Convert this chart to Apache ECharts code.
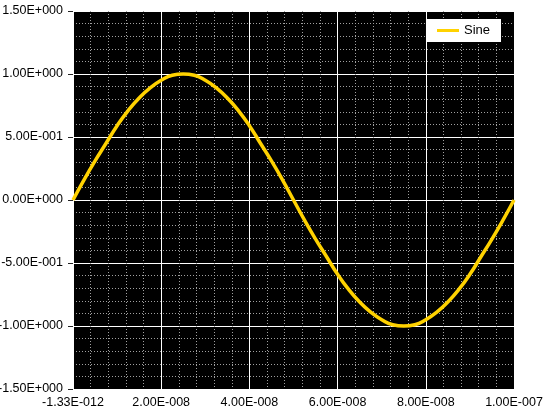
<!DOCTYPE html>
<html>
<head>
<meta charset="utf-8">
<script src="https://cdn.jsdelivr.net/npm/echarts@6/dist/echarts.min.js"></script>
<style>
html, body { margin: 0; padding: 0; background: #fff; }
#chart { width: 548px; height: 413px; }
</style>
</head>
<body>
<div id="chart"></div>
<script>
// values
var seriesName = 'Sine';
var xValues = [
    -1.33e-12, 2.5e-9, 5.0e-9, 7.5e-9, 1.0e-8, 1.25e-8, 1.5e-8, 1.75e-8, 2.0e-8, 2.25e-8,
    2.5e-8, 2.75e-8, 3.0e-8, 3.25e-8, 3.5e-8, 3.75e-8, 4.0e-8, 4.25e-8, 4.5e-8, 4.75e-8,
    5.0e-8, 5.25e-8, 5.5e-8, 5.75e-8, 6.0e-8, 6.25e-8, 6.5e-8, 6.75e-8, 7.0e-8, 7.25e-8,
    7.5e-8, 7.75e-8, 8.0e-8, 8.25e-8, 8.5e-8, 8.75e-8, 9.0e-8, 9.25e-8, 9.5e-8, 9.75e-8,
    1.0e-7
];
var yValues = [
    0.00, 0.16, 0.31, 0.45, 0.59, 0.71, 0.81, 0.89, 0.95, 0.99,
    1.00, 0.99, 0.95, 0.89, 0.81, 0.71, 0.59, 0.45, 0.31, 0.16,
    0.00, -0.16, -0.31, -0.45, -0.59, -0.71, -0.81, -0.89, -0.95, -0.99,
    -1.00, -0.99, -0.95, -0.89, -0.81, -0.71, -0.59, -0.45, -0.31, -0.16,
    0.00
];
var xMin = -1.33e-12, xMax = 1.0e-7, xStep = 2.0e-8;
var yMin = -1.5, yMax = 1.5, yStep = 0.5;

function sci(v) {
    if (v === 0) return '0.00E+000';
    var parts = v.toExponential(2).split('e');
    var ex = parseInt(parts[1], 10);
    var digits = String(Math.abs(ex));
    while (digits.length < 3) digits = '0' + digits;
    return parts[0] + 'E' + (ex < 0 ? '-' : '+') + digits;
}

var points = [];
for (var i = 0; i < xValues.length; i++) {
    points.push([xValues[i], yValues[i]]);
}

var font = 'Liberation Sans, Arial, sans-serif';
var myChart = echarts.init(document.getElementById('chart'));
var option = {
    animation: false,
    backgroundColor: '#fff',
    grid: {
        left: 73, right: 34, top: 11, bottom: 24,
        outerBoundsMode: 'none',
        containLabel: false,
        show: true, backgroundColor: '#000', borderWidth: 0
    },
    legend: {
        data: [seriesName],
        right: 47, top: 19,
        backgroundColor: '#fff',
        padding: [5, 11, 5, 11],
        itemWidth: 22, itemHeight: 3,
        icon: 'rect',
        textStyle: { color: '#000', fontSize: 13, fontFamily: font }
    },
    xAxis: {
        type: 'value',
        min: xMin, max: xMax, interval: xStep,
        axisLine: { show: false },
        axisTick: { show: false },
        axisLabel: {
            color: '#000', fontSize: 12.5, fontFamily: font, margin: 7,
            showMinLabel: true, showMaxLabel: true,
            formatter: function (v) { return sci(v); }
        },
        splitLine: { show: true, lineStyle: { color: '#fff', width: 1 } },
        minorTick: { show: false, splitNumber: 5 },
        minorSplitLine: { show: true, lineStyle: { color: '#a0a0a0', width: 1, type: [1, 2] } }
    },
    yAxis: {
        type: 'value',
        min: yMin, max: yMax, interval: yStep,
        axisLine: { show: false },
        axisTick: { show: true, length: 5, lineStyle: { color: '#222' } },
        axisLabel: {
            color: '#000', fontSize: 12.5, fontFamily: font, margin: 10,
            formatter: function (v) { return sci(v); }
        },
        splitLine: { show: true, lineStyle: { color: '#fff', width: 1 } },
        minorTick: { show: false, splitNumber: 5 },
        minorSplitLine: { show: true, lineStyle: { color: '#a0a0a0', width: 1, type: [1, 2] } }
    },
    series: [{
        name: seriesName,
        type: 'line',
        data: points,
        smooth: true,
        showSymbol: false,
        itemStyle: { color: '#FFD200' },
        lineStyle: { color: '#FFD200', width: 3.5 }
    }]
};
myChart.setOption(option);
</script>
</body>
</html>
